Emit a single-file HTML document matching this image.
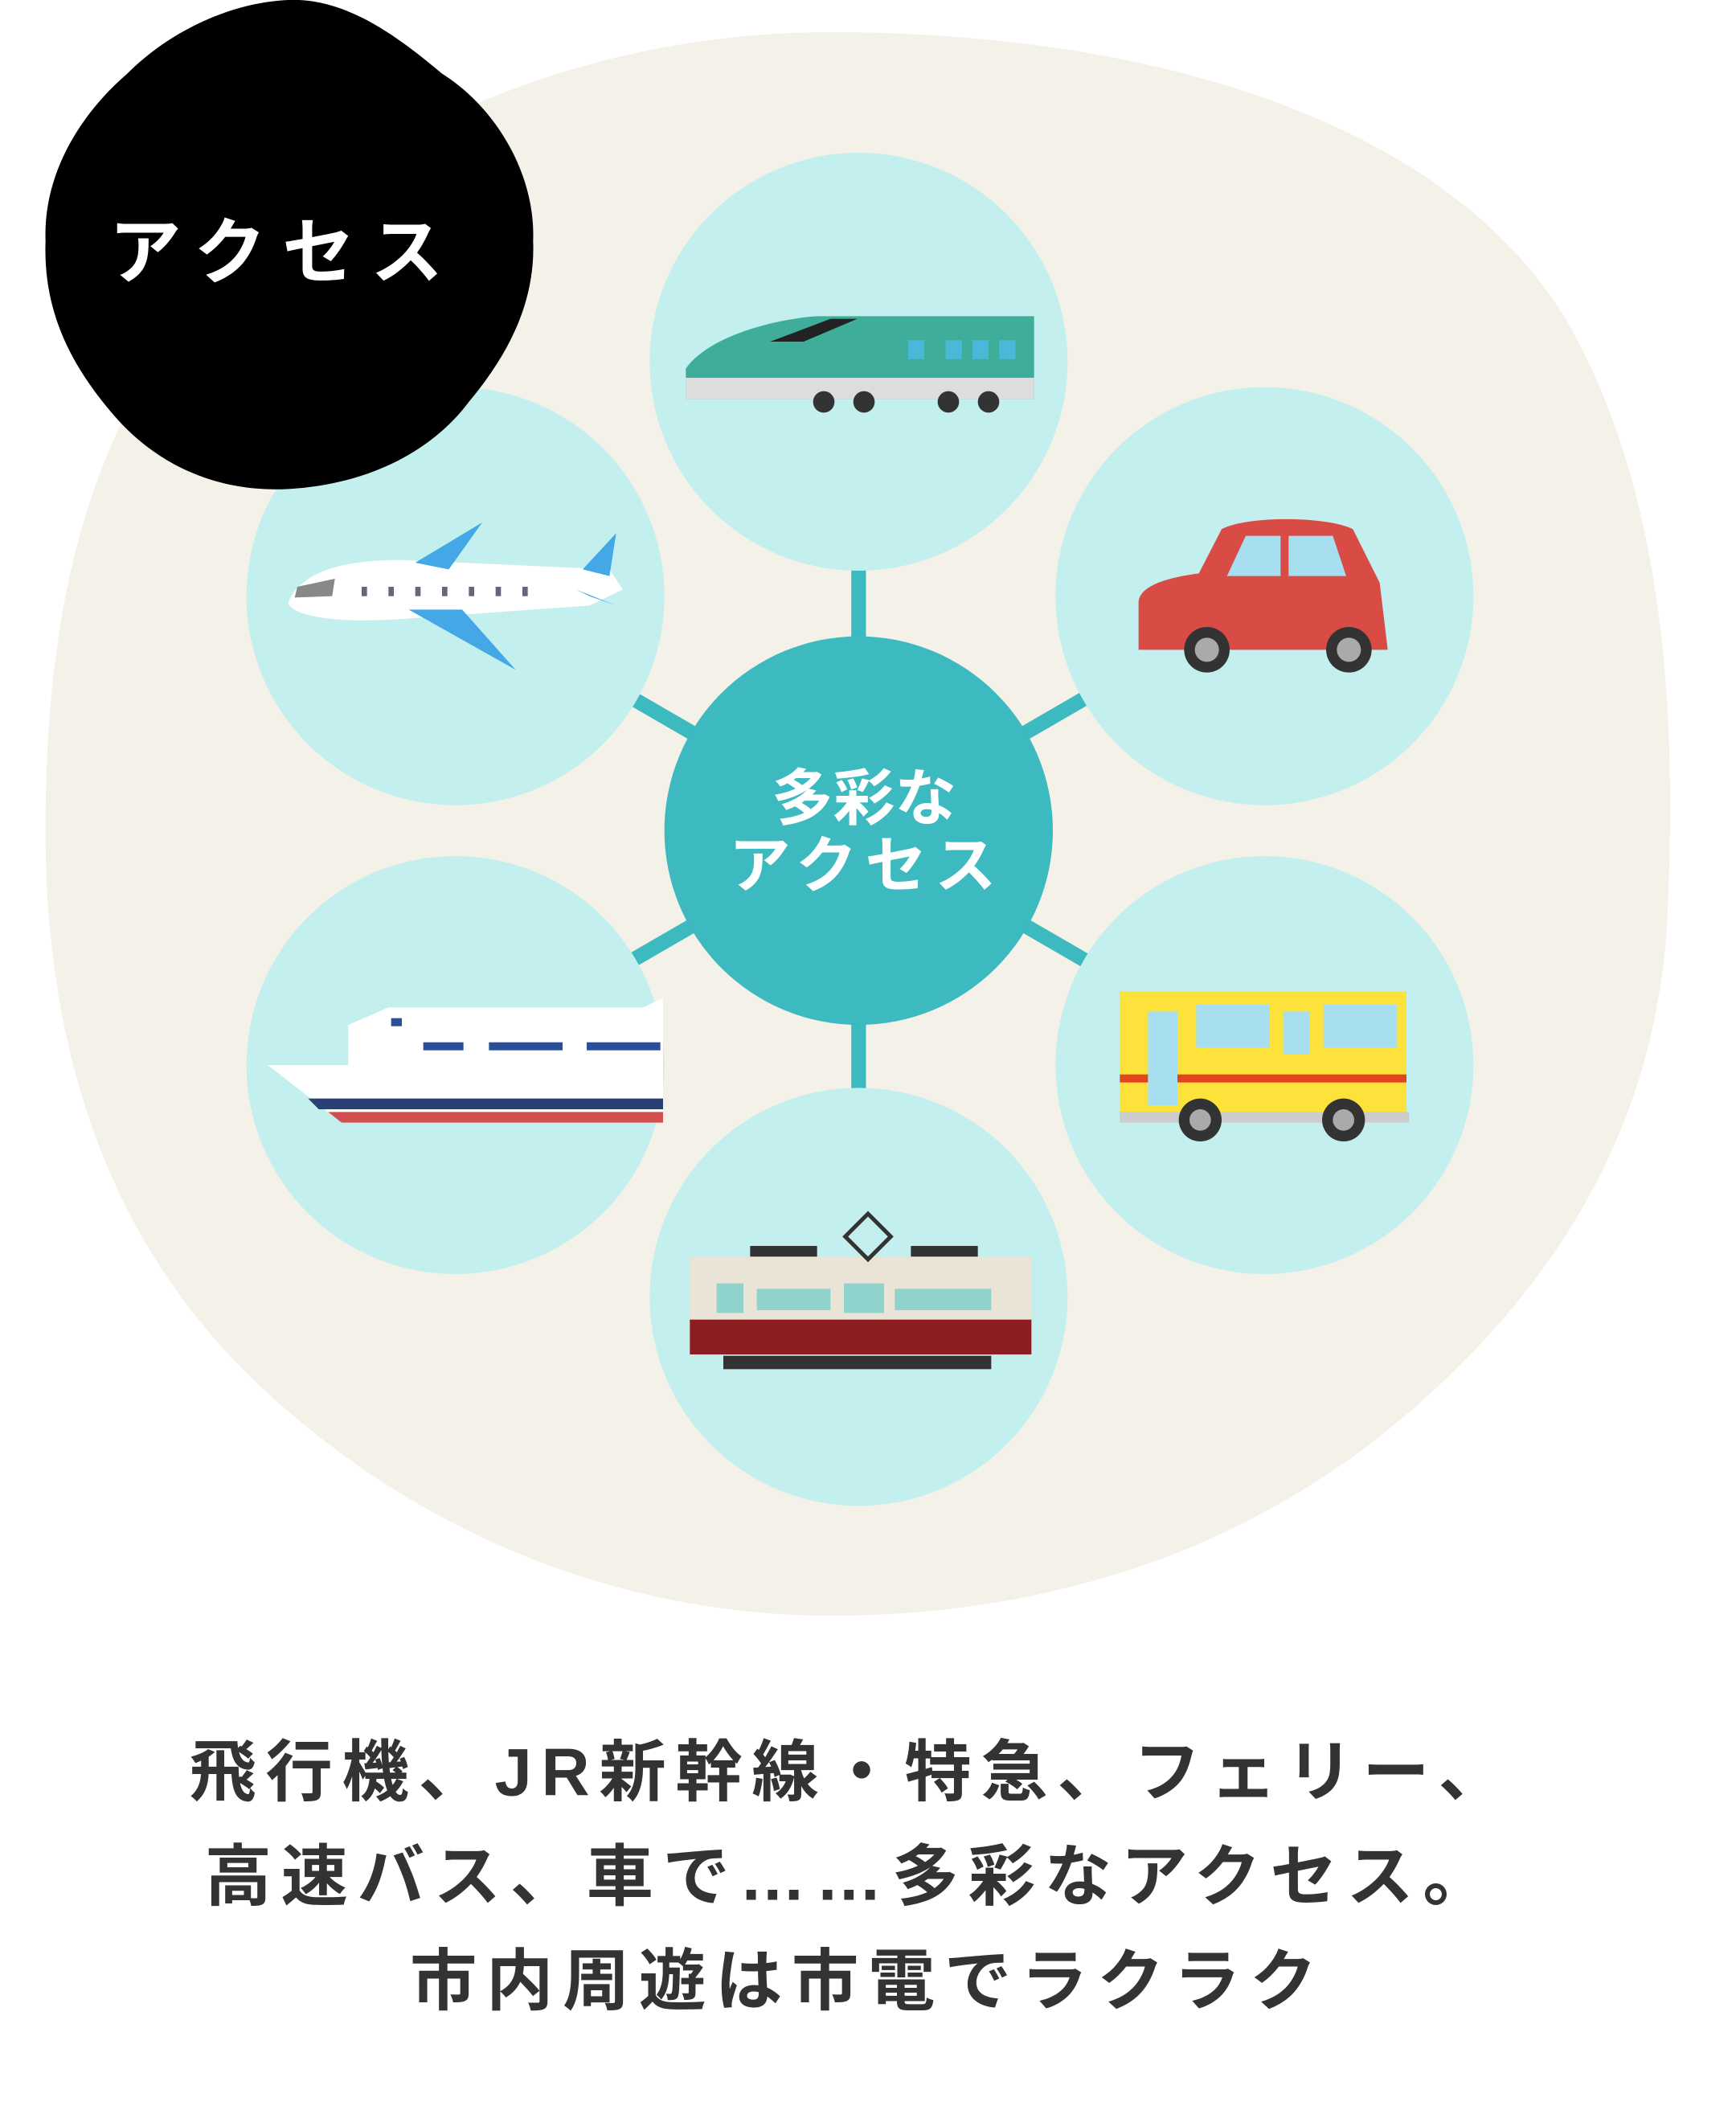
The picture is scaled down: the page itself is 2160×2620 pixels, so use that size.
<!DOCTYPE html>
<html><head><meta charset="utf-8"><style>html,body{margin:0;padding:0;background:#fff}svg{display:block}</style></head>
<body>
<svg width="2160" height="2620" viewBox="0 0 1296 1572" xmlns="http://www.w3.org/2000/svg" font-family="'Liberation Sans','Noto Sans CJK JP',sans-serif">
<rect width="1296" height="1572" fill="#fff"/>
<path d="M620,24 C860,24 1080,90 1170,240 C1250,380 1250,560 1245,680 C1238,850 1150,980 1020,1080 C900,1170 760,1206 620,1206 C470,1206 320,1150 200,1040 C90,940 34,800 34,620 C34,440 70,300 180,190 C300,80 460,24 620,24 Z" fill="#f3f1e8"/>
<g stroke="#3db9c0" stroke-width="11">
<line x1="641" y1="420" x2="641" y2="820"/>
<line x1="470" y1="520" x2="812" y2="718"/>
<line x1="812" y1="520" x2="470" y2="718"/>
</g>
<g fill="#c3efee">
<circle cx="641" cy="270" r="156"/>
<circle cx="944" cy="445" r="156"/>
<circle cx="944" cy="795" r="156"/>
<circle cx="641" cy="968" r="156"/>
<circle cx="340" cy="795" r="156"/>
<circle cx="340" cy="445" r="156"/>
</g>
<circle cx="641" cy="620" r="145" fill="#3db9c0"/>
<text x="645" y="612" font-size="46" font-weight="bold" fill="#fff" text-anchor="middle">多彩な</text>
<text x="647" y="662" font-size="46" font-weight="bold" fill="#fff" text-anchor="middle" letter-spacing="6">アクセス</text>
<!-- shinkansen -->
<path d="M512,275 C530,250 580,238 610,236 L772,236 L772,298 L512,298 Z" fill="#3eae9b"/>
<rect x="512" y="282" width="260" height="16" fill="#ddd"/>
<path d="M575,255 L620,238 L640,238 L600,255Z" fill="#222"/>
<g fill="#4ab9d9"><rect x="678" y="254" width="12" height="14"/><rect x="706" y="254" width="12" height="14"/><rect x="726" y="254" width="12" height="14"/><rect x="746" y="254" width="12" height="14"/></g>
<g fill="#333"><circle cx="615" cy="300" r="8"/><circle cx="645" cy="300" r="8"/><circle cx="708" cy="300" r="8"/><circle cx="738" cy="300" r="8"/></g>
<!-- car -->
<path d="M850,450 C850,435 880,430 895,428 L912,395 C930,385 990,385 1010,395 L1030,435 L1036,485 L850,485 Z" fill="#d94b45"/>
<path d="M916,430 L930,400 L956,400 L956,430Z M962,430 L962,400 L995,400 L1005,430Z" fill="#a8dff0"/>
<circle cx="901" cy="485" r="17" fill="#333"/><circle cx="901" cy="485" r="9" fill="#aaa"/>
<circle cx="1007" cy="485" r="17" fill="#333"/><circle cx="1007" cy="485" r="9" fill="#aaa"/>
<!-- plane -->
<path d="M215,450 C225,425 260,418 300,418 L455,425 L465,440 L440,452 L300,462 C260,465 220,462 215,450Z" fill="#fff"/>
<path d="M310,420 L360,390 L335,425Z M305,455 L385,500 L345,455Z M435,425 L460,398 L455,430Z M430,440 L460,452 L440,445Z" fill="#44a8e6"/>
<path d="M222,438 L250,432 L248,445 L220,446Z" fill="#888"/>
<g fill="#667">
<rect x="270" y="438" width="4" height="7"/><rect x="290" y="438" width="4" height="7"/><rect x="310" y="438" width="4" height="7"/><rect x="330" y="438" width="4" height="7"/><rect x="350" y="438" width="4" height="7"/><rect x="370" y="438" width="4" height="7"/><rect x="390" y="438" width="4" height="7"/></g>
<!-- bus -->
<rect x="836" y="740" width="214" height="95" fill="#fde23b"/>
<rect x="836" y="802" width="214" height="6" fill="#e2441e"/>
<rect x="836" y="830" width="216" height="8" fill="#ccc"/>
<g fill="#a8dff0"><rect x="893" y="750" width="55" height="32"/><rect x="988" y="750" width="55" height="32"/><rect x="958" y="755" width="20" height="32"/><rect x="857" y="755" width="22" height="70"/></g>
<circle cx="896" cy="836" r="16" fill="#333"/><circle cx="896" cy="836" r="8" fill="#aaa"/>
<circle cx="1003" cy="836" r="16" fill="#333"/><circle cx="1003" cy="836" r="8" fill="#aaa"/>
<!-- ship -->
<path d="M200,795 L495,795 L495,838 L255,838 Z" fill="#fff"/>
<path d="M230,820 L495,820 L495,828 L238,828Z" fill="#2a3f74"/>
<path d="M245,830 L495,830 L495,838 L255,838Z" fill="#d1504f"/>
<path d="M260,765 L290,752 L480,752 L495,745 L495,795 L260,795Z" fill="#fff"/>
<g fill="#2a4f9a"><rect x="316" y="778" width="30" height="6"/><rect x="365" y="778" width="55" height="6"/><rect x="438" y="778" width="55" height="6"/><rect x="292" y="760" width="8" height="6"/></g>
<!-- tram -->
<rect x="515" y="938" width="255" height="70" fill="#e9e4d6"/>
<rect x="515" y="985" width="255" height="26" fill="#8c1e22"/>
<g fill="#8fd3cc"><rect x="535" y="958" width="20" height="22"/><rect x="565" y="962" width="55" height="16"/><rect x="630" y="958" width="30" height="22"/><rect x="668" y="962" width="72" height="16"/></g>
<rect x="560" y="930" width="50" height="8" fill="#333"/><rect x="680" y="930" width="50" height="8" fill="#333"/>
<path d="M648,906 L665,923 L648,940 L631,923Z" fill="none" stroke="#333" stroke-width="3"/>
<rect x="540" y="1012" width="200" height="10" fill="#333"/>
<!-- badge -->
<path d="M215,0 C260,-2 300,30 330,55 C370,80 400,130 398,180 C400,230 375,270 350,300 C320,340 270,362 215,365 C160,368 115,345 85,310 C55,275 32,235 34,180 C32,130 60,85 95,55 C125,25 170,2 215,0Z" fill="#000"/>
<text x="212" y="207" font-size="54" font-weight="bold" fill="#fff" text-anchor="middle" letter-spacing="12">アクセス</text>
<!-- caption -->
<g font-size="50" font-weight="bold" fill="#333" text-anchor="middle" letter-spacing="7">
<text x="636" y="1340">飛行機、JR新幹線・特急、フェリー、</text>
<text x="636" y="1418">高速バス、車で……多彩なアクセス。</text>
<text x="648" y="1496">市内周遊は市電でラクラク</text>
</g>
</svg>
</body></html>
